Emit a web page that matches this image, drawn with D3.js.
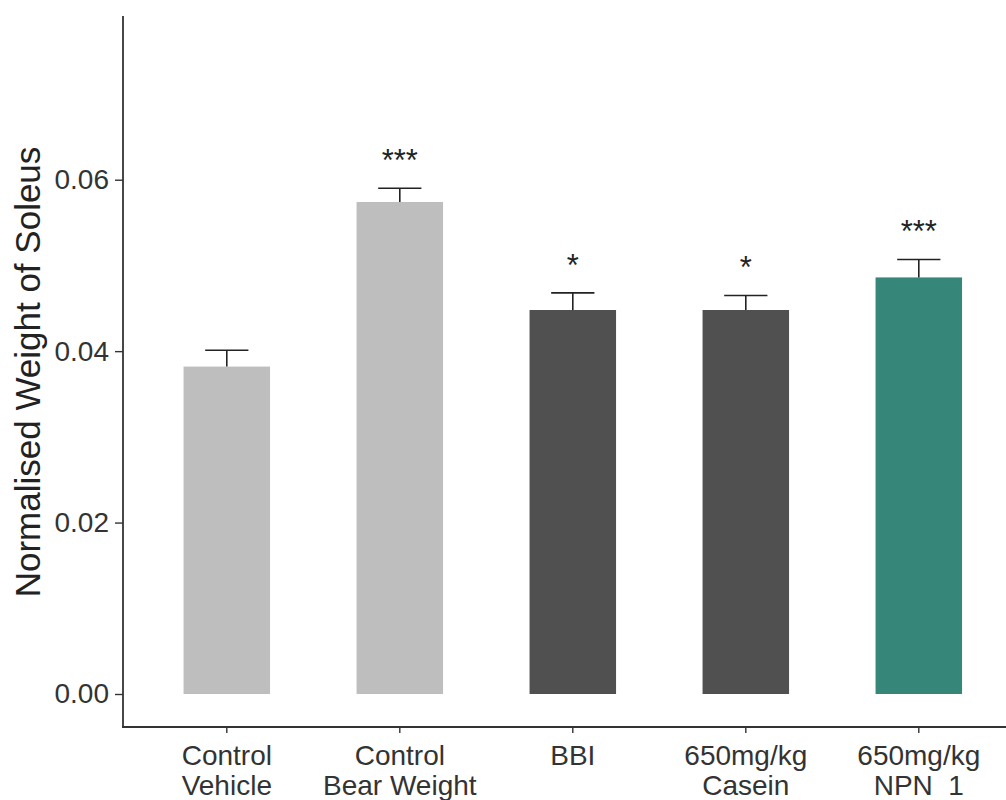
<!DOCTYPE html>
<html><head><meta charset="utf-8">
<script src="https://cdn.jsdelivr.net/npm/d3@7"></script>
<style>body{margin:0;background:#fff}svg{display:block;font-family:"Liberation Sans",Arial,sans-serif}</style>
</head><body><svg id="c" width="1006" height="800"></svg>
<script>
const categories = [["Control","Vehicle"],["Control","Bear Weight"],["BBI"],["650mg/kg","Casein"],["650mg/kg","NPN  1"]];
const means = [0.0382, 0.0574, 0.0448, 0.0448, 0.0486];
const errTops = [0.0401, 0.0590, 0.0468, 0.0465, 0.0507];
const stars = ["", "***", "*", "*", "***"];
const colors = ["#BEBEBE", "#BEBEBE", "#505050", "#505050", "#36877A"];
const yTicks = [0, 0.02, 0.04, 0.06];

const svg = d3.select("#c");
const keys = categories.map((d,i)=>String(i));
const x = d3.scaleBand().domain(keys).range([123, 1022.6]).paddingInner(0.5).paddingOuter(0.35);
const y = d3.scaleLinear().domain([-0.00385, 0.0791]).range([727, 16]);

const g = svg.append("g");
g.selectAll("rect.bar").data(means).join("rect")
  .attr("x",(d,i)=>x(keys[i])).attr("width",x.bandwidth())
  .attr("y",d=>y(d)).attr("height",d=>y(0)-y(d))
  .attr("fill",(d,i)=>colors[i]);

const cap = x.bandwidth()/2;
means.forEach((m,i)=>{
  const cx = x(keys[i])+x.bandwidth()/2;
  g.append("line").attr("x1",cx).attr("x2",cx).attr("y1",y(m)).attr("y2",y(errTops[i]))
    .attr("stroke","#222").attr("stroke-width",1.6);
  g.append("line").attr("x1",cx-cap/2).attr("x2",cx+cap/2).attr("y1",y(errTops[i])).attr("y2",y(errTops[i]))
    .attr("stroke","#222").attr("stroke-width",1.6);
  if(stars[i]) g.append("text").attr("x",cx).attr("y",y(errTops[i])-17)
    .attr("text-anchor","middle").attr("font-size",31).attr("fill","#222").text(stars[i]);
});

// y axis
const ya = svg.append("g").attr("transform","translate(123,0)")
  .call(d3.axisLeft(y).tickValues(yTicks).tickFormat(d3.format(".2f")).tickSize(8).tickPadding(6));
ya.select(".domain").remove();
ya.selectAll(".tick line").attr("stroke","#333").attr("stroke-width",1.4);
ya.selectAll(".tick text").attr("font-size",28).attr("fill","#333").attr("font-family","Liberation Sans, Arial, sans-serif");
svg.append("line").attr("x1",123).attr("x2",123).attr("y1",16).attr("y2",727.7).attr("stroke","#333").attr("stroke-width",1.8);

// x axis
const xa = svg.append("g").attr("transform","translate(0,727)")
  .call(d3.axisBottom(x).tickSize(6).tickFormat(""));
xa.select(".domain").remove();
xa.selectAll(".tick line").attr("stroke","#333").attr("stroke-width",1.4);
svg.append("line").attr("x1",122).attr("x2",1006).attr("y1",727).attr("y2",727).attr("stroke","#333").attr("stroke-width",1.8);
xa.selectAll(".tick").each(function(d,i){
  const t = d3.select(this).append("text").attr("text-anchor","middle").attr("fill","#333")
    .attr("font-size",28).attr("font-family","Liberation Sans, Arial, sans-serif");
  categories[i].forEach((line,j)=>{
    t.append("tspan").attr("x",0).attr("y",38+j*30).attr("xml:space","preserve").text(line);
  });
});

// y title
svg.append("text").attr("transform","translate(40,372) rotate(-90)").attr("text-anchor","middle")
  .attr("font-size",35).attr("fill","#222").text("Normalised Weight of Soleus");
</script></body></html>
